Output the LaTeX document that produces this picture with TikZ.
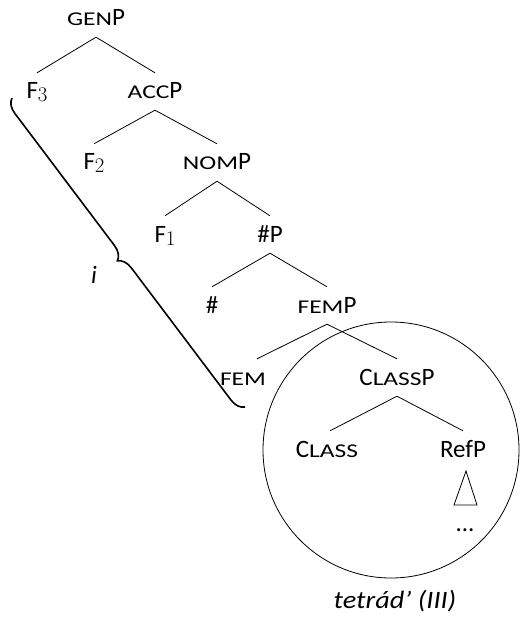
\documentclass[tikz,border=0pt]{standalone}
\usepackage{fontspec}
\usepackage{graphicx}
\setmainfont{Carlito}
\usetikzlibrary{decorations.pathreplacing}
\newcommand{\smc}[1]{\scalebox{1.02}[0.78]{#1}}
\newcommand{\subd}[1]{\raisebox{-3pt}{\fontsize{20}{22}\selectfont$#1$}}
\begin{document}
\begin{tikzpicture}[x=1pt,y=-1pt,
  tn/.style={font=\fontsize{25}{29}\selectfont, inner xsep=0pt, inner ysep=6pt, text height=20pt, text depth=5pt, anchor=base},
  edge/.style={line width=0.8pt},
  lbl/.style={font=\fontsize{25}{29}\selectfont\itshape, inner sep=0pt, anchor=base}]
\useasboundingbox (0,0) rectangle (522,617);
\node[tn] (genp) at (96,26) {\smc{GEN}P};
\node[tn] (f3) at (37,99) {F\subd{3}};
\node[tn] (accp) at (155,99) {\smc{ACC}P};
\node[tn] (f2) at (94,170) {F\subd{2}};
\node[tn] (nomp) at (217,170) {\smc{NOM}P};
\node[tn] (f1) at (165,242) {F\subd{1}};
\node[tn] (hashp) at (270,242) {\#P};
\node[tn] (hash) at (212,313) {\#};
\node[tn] (femp) at (327,313) {\smc{FEM}P};
\node[tn] (fem) at (243,385) {\smc{FEM}};
\node[tn] (classp) at (397,385) {C\smc{LASS}P};
\node[tn] (class) at (327,457) {C\smc{LASS}};
\node[tn] (refp) at (463,457) {RefP};
\node[tn] (dots) at (465,531) {...};
\draw[edge] (genp.south) -- (f3.north);
\draw[edge] (genp.south) -- (accp.north);
\draw[edge] (accp.south) -- (f2.north);
\draw[edge] (accp.south) -- (nomp.north);
\draw[edge] (nomp.south) -- (f1.north);
\draw[edge] (nomp.south) -- (hashp.north);
\draw[edge] (hashp.south) -- (hash.north);
\draw[edge] (hashp.south) -- (femp.north);
\draw[edge] (femp.south) -- ([xshift=14pt]fem.north);
\draw[edge] (femp.south) -- (classp.north);
\draw[edge] (classp.south) -- ([xshift=3pt]class.north);
\draw[edge] (classp.south) -- (refp.north);
\draw[edge] (466,471) -- (454,505) -- (477,505) -- cycle;
\draw[edge] (391,450) circle[radius=128pt];
\draw[decorate, decoration={brace, amplitude=14pt}, line width=1.6pt] (245,407) -- (12,98);
\node[lbl] (ilab) at (94,283) {i};
\node[lbl] (tet) at (395,608) {\scalebox{1.13}[1]{tetrád’ (III)}};
\end{tikzpicture}
\end{document}
